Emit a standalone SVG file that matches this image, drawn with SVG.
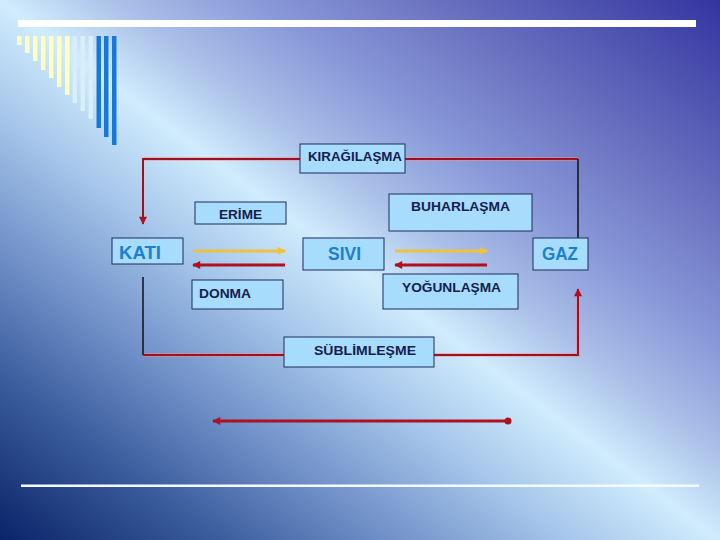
<svg xmlns="http://www.w3.org/2000/svg" width="720" height="540" viewBox="0 0 720 540">
  <defs>
    <linearGradient id="bg" x1="0" y1="1" x2="1" y2="0">
      <stop offset="0" stop-color="#0a2468"/>
      <stop offset="0.15" stop-color="#3a5c9c"/>
      <stop offset="0.27" stop-color="#7090c8"/>
      <stop offset="0.4" stop-color="#a8c8ec"/>
      <stop offset="0.5" stop-color="#d0ecfc"/>
      <stop offset="0.58" stop-color="#aac0e8"/>
      <stop offset="0.68" stop-color="#8898d8"/>
      <stop offset="0.8" stop-color="#6a72c0"/>
      <stop offset="1" stop-color="#3434a0"/>
    </linearGradient>
    <marker id="arRed" viewBox="0 0 10 10" refX="9" refY="5" markerWidth="9" markerHeight="8" markerUnits="userSpaceOnUse" orient="auto">
      <path d="M0,0 L10,5 L0,10 z" fill="#b01020"/>
    </marker>
    <marker id="arYel" viewBox="0 0 10 10" refX="9" refY="5" markerWidth="9" markerHeight="8" markerUnits="userSpaceOnUse" orient="auto">
      <path d="M0,0 L10,5 L0,10 z" fill="#f0c040"/>
    </marker>
    <style>
      .box { fill: #a8dcfc; stroke: #1c2c5c; stroke-width: 1; }
      .lbl { font-family: "Liberation Sans", Arial, sans-serif; font-size: 12px; fill: #142050; font-weight: bold; }
      .big { font-family: "Liberation Sans", Arial, sans-serif; font-size: 18px; fill: #1a80d0; font-weight: bold; }
      .red { stroke: #a01020; stroke-width: 2; fill: none; }
      .blk { stroke: #101010; stroke-width: 1.5; fill: none; }
      .ared { stroke: #b01020; stroke-width: 3; fill: none; }
      .ayel { stroke: #f0c040; stroke-width: 3; fill: none; }
      .glow { stroke: #f09090; stroke-opacity: 0.5; fill: none; }
    </style>
  </defs>

  <rect x="0" y="0" width="720" height="540" fill="url(#bg)"/>

  <g id="decor">
    <rect x="18" y="20" width="678" height="7" fill="#ffffff"/>
    <g fill="#ffffc0">
      <rect x="17" y="36" width="4.5" height="9"/>
      <rect x="25" y="36" width="4.5" height="17"/>
      <rect x="33" y="36" width="4.5" height="25"/>
      <rect x="41" y="36" width="4.5" height="34"/>
      <rect x="49" y="36" width="4.5" height="42"/>
      <rect x="57" y="36" width="4.5" height="51"/>
      <rect x="65" y="36" width="4.5" height="59"/>
    </g>
    <g fill="#d8eefc">
      <rect x="72.5" y="36" width="4.5" height="67"/>
      <rect x="80.5" y="36" width="4.5" height="75"/>
      <rect x="88.5" y="36" width="4.5" height="83"/>
    </g>
    <g fill="#1878d8">
      <rect x="96.5" y="36" width="4.5" height="92"/>
      <rect x="104" y="36" width="4.5" height="101"/>
      <rect x="112" y="36" width="4.5" height="109"/>
    </g>
    <rect x="21" y="484.5" width="678" height="2.5" fill="#f4fbff"/>
  </g>

  <g id="connectors">
    <path class="glow" stroke-width="4" d="M300,159 H143 M405,159 H578 M143,355 H284 M434,355 H578 V292"/>
    <path class="red" d="M300,159 H143 V224" marker-end="url(#arRed)"/>
    <path class="red" d="M405,159 H578"/>
    <path class="blk" d="M578,159 V238"/>
    <path class="blk" d="M143,277 V355"/>
    <path class="red" d="M143,355 H284"/>
    <path class="red" d="M434,355 H578 V289" marker-end="url(#arRed)"/>
    <path class="ayel" d="M193,251 H285" marker-end="url(#arYel)"/>
    <path class="ared" d="M285,265 H193" marker-end="url(#arRed)"/>
    <path class="ayel" d="M395,251 H487" marker-end="url(#arYel)"/>
    <path class="ared" d="M487,265 H395" marker-end="url(#arRed)"/>
    <path class="ared" d="M508,421 H213" marker-end="url(#arRed)"/>
    <circle cx="508" cy="421" r="3.5" fill="#b01020"/>
  </g>

  <g id="kiragilasma">
    <rect class="box" x="300" y="144" width="105" height="29"/>
    <text class="lbl" x="308" y="161" textLength="94" lengthAdjust="spacingAndGlyphs">KIRAĞILAŞMA</text>
  </g>
  <g id="erime">
    <rect class="box" x="195" y="202" width="91" height="22"/>
    <text class="lbl" x="219" y="219" textLength="43" lengthAdjust="spacingAndGlyphs">ERİME</text>
  </g>
  <g id="buharlasma">
    <rect class="box" x="389" y="194" width="143" height="37"/>
    <text class="lbl" x="411" y="211" textLength="99" lengthAdjust="spacingAndGlyphs">BUHARLAŞMA</text>
  </g>
  <g id="kati">
    <rect class="box" x="112" y="238" width="71" height="26"/>
    <text class="big" x="119" y="259" textLength="42" lengthAdjust="spacingAndGlyphs">KATI</text>
  </g>
  <g id="sivi">
    <rect class="box" x="303" y="238" width="81" height="32"/>
    <text class="big" x="328" y="260" textLength="33" lengthAdjust="spacingAndGlyphs">SIVI</text>
  </g>
  <g id="gaz">
    <rect class="box" x="533" y="238" width="55" height="32"/>
    <text class="big" x="542" y="260" textLength="36" lengthAdjust="spacingAndGlyphs">GAZ</text>
  </g>
  <g id="donma">
    <rect class="box" x="192" y="280" width="91" height="29"/>
    <text class="lbl" x="199" y="298" textLength="52" lengthAdjust="spacingAndGlyphs">DONMA</text>
  </g>
  <g id="yogunlasma">
    <rect class="box" x="383" y="274" width="135" height="35"/>
    <text class="lbl" x="402" y="292" textLength="99" lengthAdjust="spacingAndGlyphs">YOĞUNLAŞMA</text>
  </g>
  <g id="sublimlesme">
    <rect class="box" x="284" y="337" width="150" height="30"/>
    <text class="lbl" x="314" y="355" textLength="102" lengthAdjust="spacingAndGlyphs">SÜBLİMLEŞME</text>
  </g>
</svg>
